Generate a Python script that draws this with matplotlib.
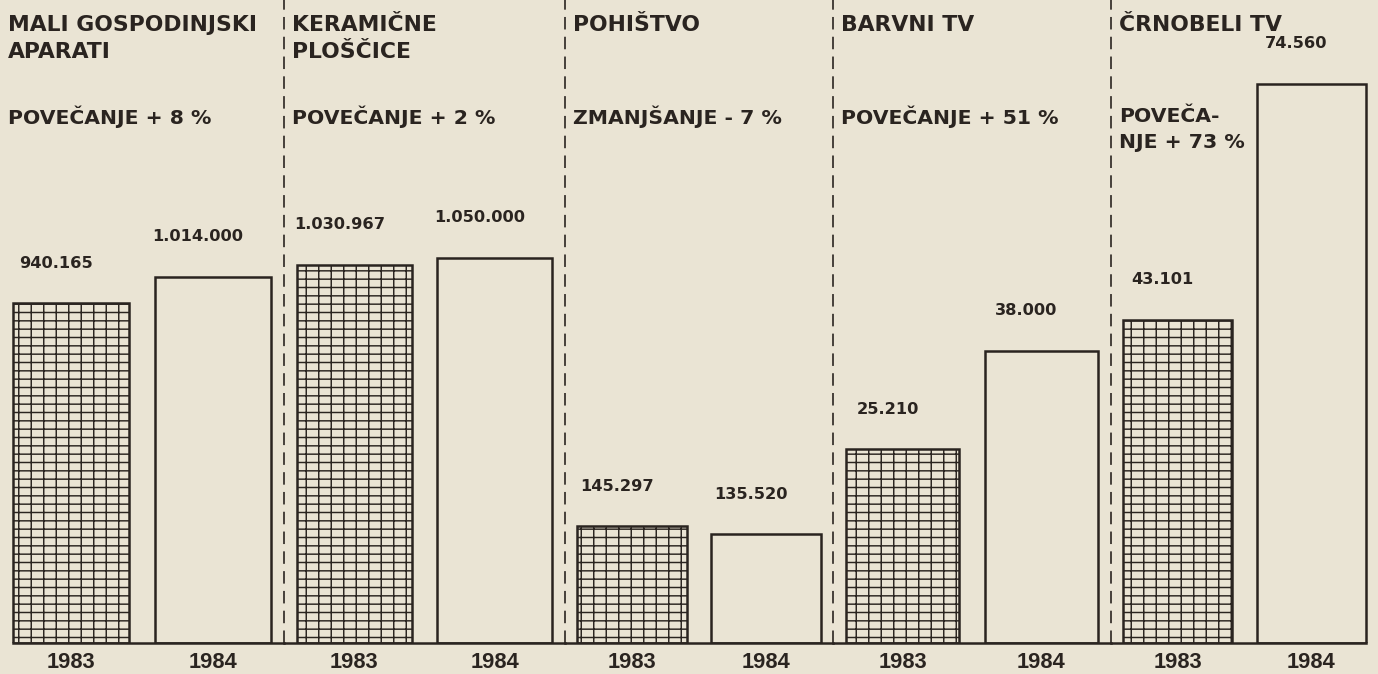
import matplotlib.pyplot as plt

# podatki
titles = [['MALI GOSPODINJSKI', 'APARATI'], ['KERAMIČNE', 'PLOŠČICE'],
          ['POHIŠTVO'], ['BARVNI TV'], ['ČRNOBELI TV']]
changes = [['POVEČANJE + 8 %'], ['POVEČANJE + 2 %'], ['ZMANJŠANJE - 7 %'],
           ['POVEČANJE + 51 %'], ['POVEČA-', 'NJE + 73 %']]
years = ['1983', '1984']
v1983 = [940165, 1030967, 145297, 25210, 43101]
v1984 = [1014000, 1050000, 135520, 38000, 74560]

# postavitev (piksli)
W, H, DPI = 1378, 674, 150
base = 643
edges = [0, 284, 565, 833, 1111, 1378]
ytop = [1780000, 1751500, 800500, 83600, 85700]
px = 72 / DPI

bg = '#eae4d4'
ink = '#2a2420'

plt.rcParams['hatch.color'] = ink
plt.rcParams['hatch.linewidth'] = 0.7
plt.rcParams['lines.scale_dashes'] = False

fig = plt.figure(figsize=(W / DPI, H / DPI), dpi=DPI, facecolor=bg)


def fmt(v):
    return f'{v:,}'.replace(',', '.')


for i in range(5):
    ax = fig.add_axes([edges[i] / W, (H - base) / H,
                       (edges[i + 1] - edges[i]) / W, base / H])
    ax.set_facecolor('none')
    ax.bar([0], [v1983[i]], width=0.82, facecolor=bg, edgecolor=ink,
           linewidth=1.2, hatch='---||')
    ax.bar([1], [v1984[i]], width=0.82, facecolor=bg, edgecolor=ink,
           linewidth=1.2)
    ax.set_xlim(-0.5, 1.5)
    ax.set_ylim(0, ytop[i])

    for x, v in zip([0, 1], [v1983[i], v1984[i]]):
        ax.annotate(fmt(v), xy=(x, v), xytext=(-15 * px, 40 * px),
                    textcoords='offset points', ha='center', va='center',
                    fontsize=7.8, fontweight='bold', family='DejaVu Sans',
                    color=ink)

    for j, line in enumerate(titles[i]):
        ax.annotate(line, xy=(0, 1), xycoords='axes fraction',
                    xytext=(8 * px, -(25 + 27 * j) * px),
                    textcoords='offset points', ha='left', va='center',
                    fontsize=10.5, fontweight='bold', family='DejaVu Sans',
                    color=ink)
    for j, line in enumerate(changes[i]):
        ax.annotate(line, xy=(0, 1), xycoords='axes fraction',
                    xytext=(8 * px, -(117 + 25 * j) * px),
                    textcoords='offset points', ha='left', va='center',
                    fontsize=9.8, fontweight='bold', family='DejaVu Sans',
                    color=ink)

    ax.set_xticks([0, 1])
    ax.set_xticklabels(years, fontsize=10.5, fontweight='bold',
                       family='Liberation Sans', color=ink)
    ax.tick_params(axis='x', length=0, pad=4.5)
    ax.set_yticks([])
    for s in ['top', 'left', 'right']:
        ax.spines[s].set_visible(False)
    ax.spines['bottom'].set_color(ink)
    ax.spines['bottom'].set_linewidth(1.2)
    if i == 0:
        ax.spines['bottom'].set_bounds(-0.41, 1.5)
    if i == 4:
        ax.spines['bottom'].set_bounds(-0.5, 1.41)
    if i < 4:
        ax.axvline(1.5, ymin=0, ymax=1, color=ink, linewidth=0.8,
                   dashes=(6, 3.5), clip_on=False)

fig.savefig('out.png', dpi=DPI, facecolor=bg)
